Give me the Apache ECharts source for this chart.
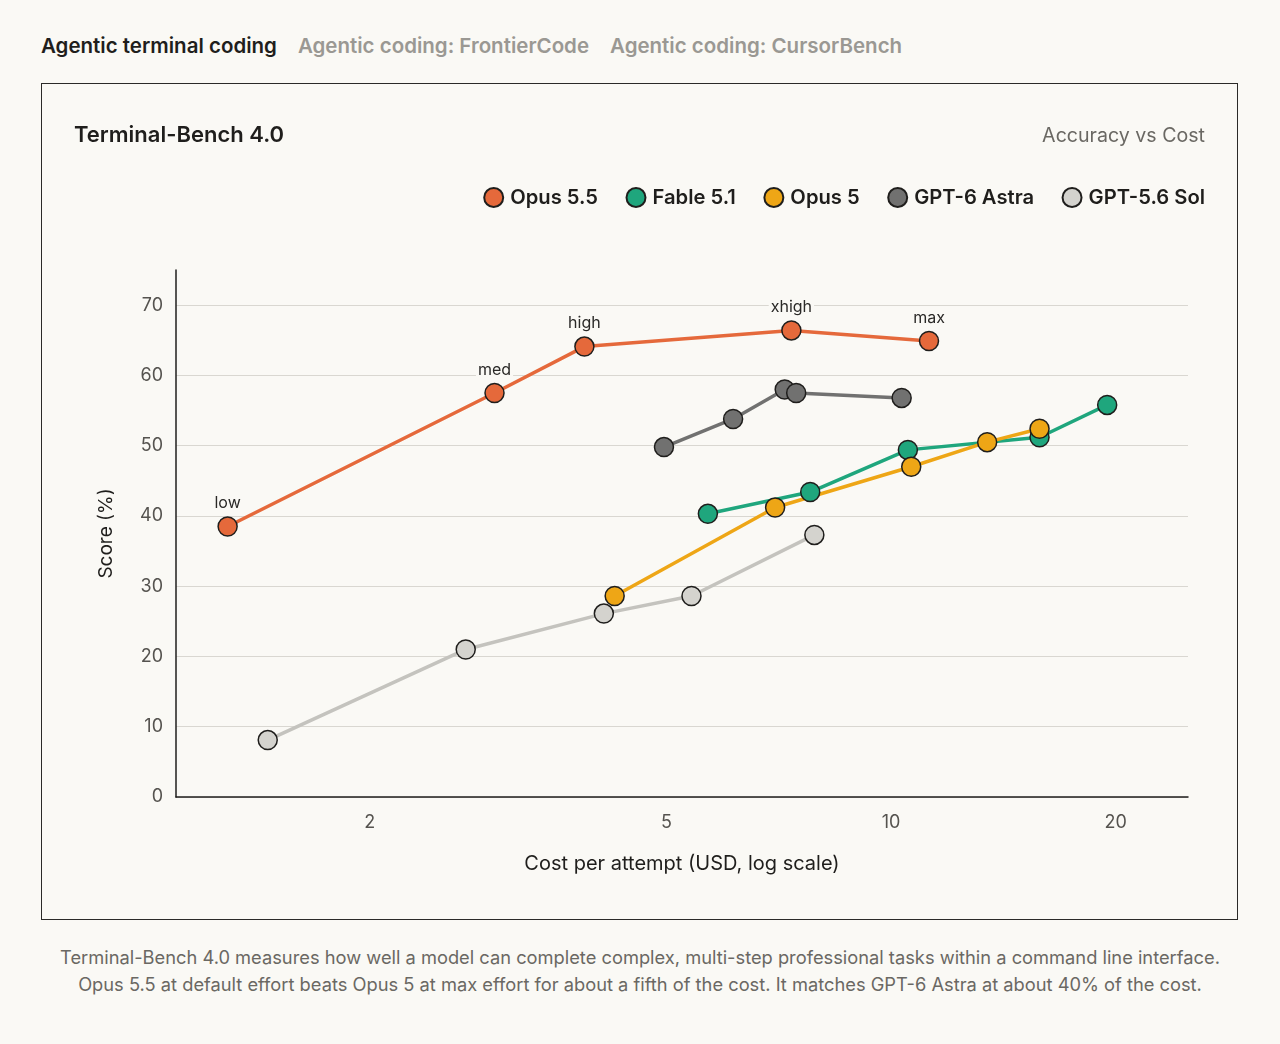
<!DOCTYPE html>
<html>
<head>
<meta charset="utf-8">
<script src="https://cdn.jsdelivr.net/npm/echarts@6/dist/echarts.min.js"></script>
<style>
  body { margin: 0; background: #FAF9F5; font-family: Inter, "Noto Sans", sans-serif; }
  .tabs { position: absolute; left: 41px; top: 33px; font-size: 20.5px; font-weight: 600; white-space: nowrap; }
  .tabs span { margin-right: 21px; color: #9A9893; }
  .tabs span.on { color: #1F1E1C; }
  .box { position: absolute; left: 41px; top: 83px; width: 1195px; height: 835px; border: 1.5px solid #2B2A28; }
  #chart { width: 1195px; height: 835px; }
  .note { position: absolute; left: 0; width: 1280px; top: 944px; text-align: center; font-size: 18.3px; line-height: 27px; color: #6A6863; }
</style>
</head>
<body>
<div class="tabs"><span class="on">Agentic terminal coding</span><span>Agentic coding: FrontierCode</span><span>Agentic coding: CursorBench</span></div>
<div class="box"><div id="chart"></div></div>
<div class="note">Terminal-Bench 4.0 measures how well a model can complete complex, multi-step professional tasks within a command line interface.<br>Opus 5.5 at default effort beats Opus 5 at max effort for about a fifth of the cost. It matches GPT-6 Astra at about 40% of the cost.</div>
<script>
// cost per attempt (USD) and score (%)
const opus55Cost = [1.29, 2.94, 3.88, 7.35, 11.24];
const opus55Score = [38.5, 57.5, 64.1, 66.4, 64.9];
const opus55Effort = ['low', 'med', 'high', 'xhigh', 'max'];

const fable51Cost = [5.68, 7.79, 10.53, 15.81, 19.48];
const fable51Score = [40.3, 43.4, 49.4, 51.2, 55.8];

const opus5Cost = [4.26, 6.99, 10.64, 13.45, 15.81];
const opus5Score = [28.6, 41.2, 47.0, 50.5, 52.4];

const astraCost = [4.96, 6.14, 7.20, 7.46, 10.33];
const astraScore = [49.8, 53.8, 58.0, 57.5, 56.8];

const solCost = [1.46, 2.69, 4.12, 5.40, 7.89];
const solScore = [8.1, 21.0, 26.1, 28.6, 37.3];

const xTicks = [2, 5, 10, 20];

const bg = '#FAF9F5';

function pts(xs, ys) {
    return xs.map((x, i) => [x, ys[i]]);
}

function serie(name, xs, ys, color, lineColor) {
    return {
        name: name,
        type: 'line',
        data: pts(xs, ys),
        symbol: 'circle',
        symbolSize: 19,
        lineStyle: { width: 3.5, color: lineColor || color },
        itemStyle: { color: color, borderColor: '#1F1E1C', borderWidth: 1.5, opacity: 1 },
        emphasis: { disabled: true }
    };
}

let chart = echarts.init(document.getElementById('chart'));

let opus55 = serie('Opus 5.5', opus55Cost, opus55Score, '#E5693B');
opus55.label = {
    show: true,
    position: 'top',
    distance: 5,
    fontSize: 16,
    color: '#2A2927',
    backgroundColor: bg,
    padding: [0, 2],
    formatter: p => opus55Effort[p.dataIndex]
};

let option = {
    backgroundColor: bg,
    textStyle: { fontFamily: 'Inter, "Noto Sans", sans-serif' },
    animation: false,
    title: [
        {
            text: 'Terminal-Bench 4.0',
            left: 27, top: 35,
            textStyle: { fontSize: 22, fontWeight: 600, color: '#1F1E1C' }
        },
        {
            text: 'Accuracy vs Cost',
            right: 27, top: 37,
            textStyle: { fontSize: 19.6, fontWeight: 400, color: '#6A6863' }
        }
    ],
    legend: {
        right: 27, top: 98,
        icon: 'circle',
        itemWidth: 19, itemHeight: 19,
        itemGap: 27.5,
        textStyle: { fontSize: 20.2, fontWeight: 600, color: '#1F1E1C', padding: [0, 0, 0, 2] },
        selectedMode: false
    },
    grid: { left: 134, right: 49, top: 186, bottom: 122 },
    xAxis: {
        type: 'log',
        min: 1.1,
        max: 25,
        name: 'Cost per attempt (USD, log scale)',
        nameLocation: 'middle',
        nameGap: 57,
        nameTextStyle: { fontSize: 20, color: '#1F1E1C' },
        axisLine: { lineStyle: { color: '#1F1E1C', width: 1.5 } },
        axisTick: { show: false },
        splitLine: { show: false },
        minorTick: { show: false },
        axisLabel: { customValues: xTicks, fontSize: 18, color: '#55534F', margin: 17 }
    },
    yAxis: {
        type: 'value',
        min: 0, max: 75, interval: 10,
        name: 'Score (%)',
        nameLocation: 'middle',
        nameGap: 60,
        nameTextStyle: { fontSize: 19, color: '#1F1E1C' },
        axisLine: { show: true, lineStyle: { color: '#1F1E1C', width: 1.5 } },
        axisTick: { show: false },
        axisLabel: { fontSize: 18, color: '#55534F', margin: 13, showMaxLabel: false },
        splitLine: { show: true, showMaxLine: false, lineStyle: { color: '#D9D7D1', width: 1.2 } }
    },
    series: [
        opus55,
        serie('Fable 5.1', fable51Cost, fable51Score, '#1FA67D'),
        serie('Opus 5', opus5Cost, opus5Score, '#EEA616'),
        serie('GPT-6 Astra', astraCost, astraScore, '#717170'),
        serie('GPT-5.6 Sol', solCost, solScore, '#D4D3CE', '#C4C3BE')
    ]
};

chart.setOption(option);
</script>
</body>
</html>
